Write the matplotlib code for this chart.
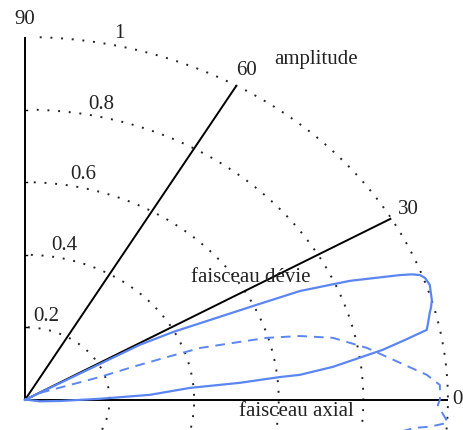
import numpy as np
import matplotlib
matplotlib.use("Agg")
import matplotlib.pyplot as plt

plt.rcParams['font.family'] = ['Liberation Serif', 'DejaVu Serif']

# cercles d'amplitude et rayons angulaires
rings = [0.2, 0.4, 0.6, 0.8, 1.0]
ring_labels = ['0.2', '0.4', '0.6', '0.8', '1']
spokes = [0, 30, 60, 90]
spoke_labels = ['0', '30', '60', '90']

devie_x = [0.0, 0.272, 0.350, 0.548, 0.650, 0.768, 0.887, 0.915, 0.934, 0.946,
           0.957, 0.962, 0.960, 0.957, 0.953, 0.950, 0.900, 0.846, 0.728, 0.650,
           0.603, 0.508, 0.390, 0.296, 0.177, 0.083, 0.035, 0.007, 0.0]
devie_y = [0.0, 0.152, 0.187, 0.262, 0.300, 0.328, 0.344, 0.346, 0.344, 0.336,
           0.317, 0.275, 0.255, 0.240, 0.212, 0.193, 0.166, 0.138, 0.091, 0.069,
           0.063, 0.047, 0.033, 0.014, 0.003, -0.003, -0.004, 0.0, 0.0]

# faisceau axial (tirets)
axial_x = [0.0, 0.035, 0.177, 0.255, 0.336, 0.414, 0.492, 0.572, 0.650, 0.728,
           0.809, 0.887, 0.950, 0.981, 0.981, 0.976, 1.0, 0.957, 0.922, 0.88]
axial_y = [0.0, 0.019, 0.063, 0.091, 0.118, 0.143, 0.157, 0.171, 0.176, 0.171,
           0.143, 0.102, 0.069, 0.041, 0.0, -0.014, -0.063, -0.074, -0.077, -0.09]

blue = '#5b86f2'

fig = plt.figure(figsize=(4.64, 4.30), dpi=100)
ax = fig.add_axes([0, 0, 1, 1])
ax.set_xlim(-0.059, 1.038)
ax.set_ylim(-0.083, 1.102)
ax.axis('off')

# cercles pointillés
th = np.radians(np.linspace(88, -25, 300))
for r in rings:
    ax.plot(r * np.cos(th), r * np.sin(th), color='#222222', lw=1.4,
            linestyle=(0, (1, 4.5)))

# rayons
for a in spokes:
    t = np.radians(a)
    ax.plot([0, np.cos(t)], [0, np.sin(t)], color='black', lw=1.4,
            solid_capstyle='butt')

# petites graduations sur l'axe vertical
for r in rings[:-1]:
    ax.plot([0, 0.006], [r, r], color='black', lw=1.0)

ax.plot(devie_x, devie_y, color=blue, lw=1.6, solid_joinstyle='round')
ax.plot(axial_x, axial_y, color=blue, lw=1.4, linestyle=(0, (5, 3.5)))

fs = 15
for r, lab in zip(rings, ring_labels):
    t = np.radians(77.5)
    rr = r + 0.035
    ax.text(rr * np.cos(t), rr * np.sin(t), lab, fontsize=fs, color='#222222',
            ha='center', va='center')

for a, lab in zip(spokes[1:], spoke_labels[1:]):
    t = np.radians(a)
    rr = 1.048
    ax.text(rr * np.cos(t), rr * np.sin(t), lab, fontsize=fs, color='#222222',
            ha='center', va='center')
# le "0" est au bord droit : on le garde entièrement visible
ax.text(1.035, 0.0, spoke_labels[0], fontsize=fs, color='#222222',
        ha='right', va='center')

ax.text(0.688, 0.937, 'amplitude', fontsize=fs, ha='center', va='center',
        color='#222222')
ax.text(0.534, 0.336, 'faisceau dévie', fontsize=fs, ha='center',
        va='center', color='#222222')
ax.text(0.641, -0.033, 'faisceau axial', fontsize=fs, ha='center',
        va='center', color='#222222')

fig.savefig('out.png', dpi=100)
